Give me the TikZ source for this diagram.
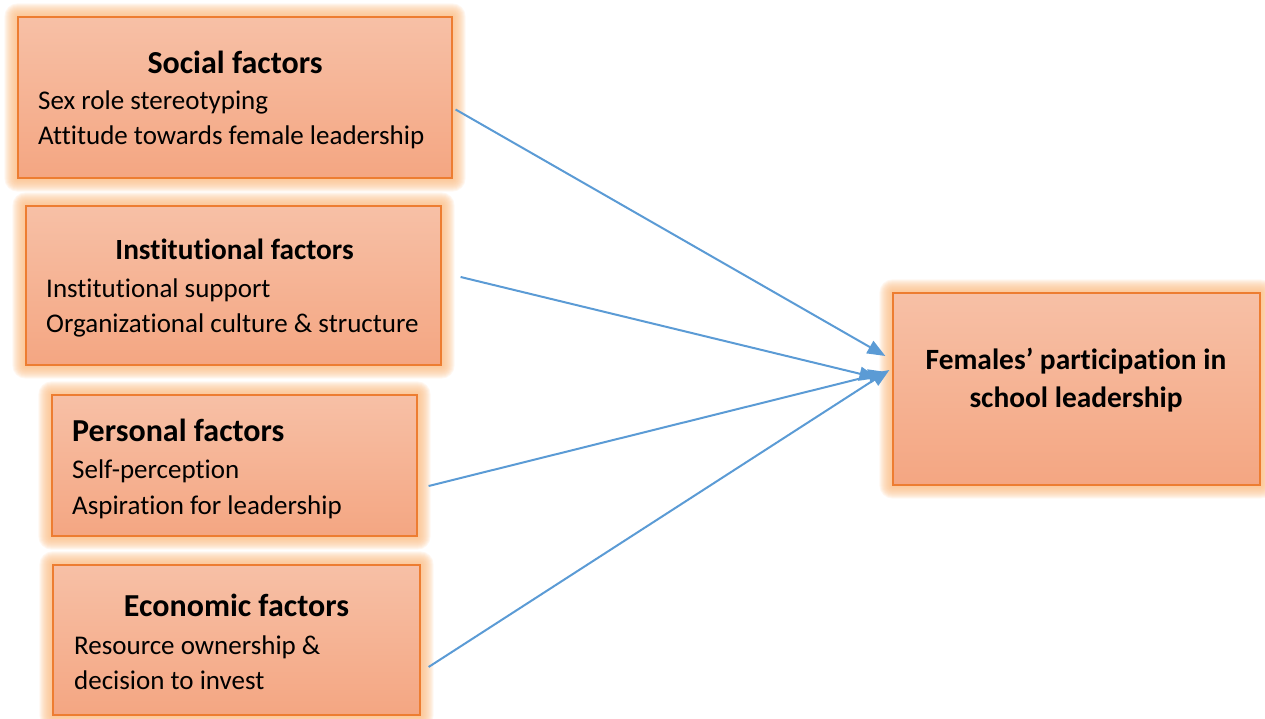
\documentclass[tikz,border=0pt]{standalone}
\usepackage{fontspec}
\setmainfont{Carlito}[Ligatures={NoCommon}]
\usetikzlibrary{arrows.meta,calc,backgrounds}

\definecolor{boxtop}{RGB}{247,192,166}
\definecolor{boxbot}{RGB}{244,166,130}
\definecolor{boxline}{RGB}{237,125,49}
\definecolor{glowc}{RGB}{251,190,135}
\definecolor{arrowc}{RGB}{91,155,213}

\tikzset{
  factorbox/.style={draw=boxline, line width=1.2pt, top color=boxtop, bottom color=boxbot,
                    inner sep=0pt, rectangle},
  headtxt/.style={font=\fontsize{32}{38}\selectfont\bfseries, inner sep=0pt},
  bodytxt/.style={font=\fontsize{27}{32}\selectfont, inner sep=0pt, anchor=base west},
  goaltxt/.style={font=\fontsize{29.4}{35}\selectfont\bfseries, inner sep=0pt, anchor=base},
  link/.style={draw=arrowc, line width=2pt, -{Triangle[length=18pt,width=14pt]}},
}

% soft orange halo behind a box
\newcommand{\halo}[1]{%
  \begin{scope}[on background layer]
    \foreach \i in {1,...,13}{
      \fill[glowc, opacity=0.12, rounded corners=\i pt]
        ($(#1.south west)+(-\i pt,-\i pt)$) rectangle ($(#1.north east)+(\i pt,\i pt)$);
    }
  \end{scope}}

\begin{document}
\begin{tikzpicture}[x=1pt,y=-1pt]
  \useasboundingbox (0,0) rectangle (1265,719);

  % factor boxes
  \node[factorbox, minimum width=434pt, minimum height=161pt] (social) at (235,97.5) {};
  \node[factorbox, minimum width=415pt, minimum height=159pt] (inst) at (233.5,285.5) {};
  \node[factorbox, minimum width=365pt, minimum height=141pt] (pers) at (234.5,465.5) {};
  \node[factorbox, minimum width=367pt, minimum height=150pt] (econ) at (236.5,640) {};
  \node[factorbox, minimum width=367pt, minimum height=192pt] (goal) at (1076.5,389) {};
  \halo{social}\halo{inst}\halo{pers}\halo{econ}\halo{goal}

  % social factors
  \node[headtxt, anchor=base] (socialT) at (235,74) {Social factors};
  \node[bodytxt] (socialA) at (38,110) {Sex role stereotyping};
  \node[bodytxt] (socialB) at (38,145) {Attitude towards female leadership};

  % institutional factors
  \node[headtxt, anchor=base, font=\fontsize{29.3}{35}\selectfont\bfseries] (instT) at (234.5,259) {Institutional factors};
  \node[bodytxt] (instA) at (46,297) {Institutional support};
  \node[bodytxt] (instB) at (46,332) {Organizational culture \& structure};

  % personal factors
  \node[headtxt, anchor=base west] (persT) at (72,441) {Personal factors};
  \node[bodytxt] (persA) at (72,478) {Self-perception};
  \node[bodytxt] (persB) at (72,514) {Aspiration for leadership};

  % economic factors
  \node[headtxt, anchor=base] (econT) at (236.5,616) {Economic factors};
  \node[bodytxt] (econA) at (74,654) {Resource ownership \&};
  \node[bodytxt] (econB) at (74,689) {decision to invest};

  % outcome
  \node[goaltxt] (goalA) at (1076,369) {Females’ participation in};
  \node[goaltxt] (goalB) at (1076,407) {school leadership};

  % connector ends
  \coordinate (s1) at ($(social.east)+(3pt,-12pt)$);
  \coordinate (s2) at ($(inst.east)+(19pt,8.5pt)$);
  \coordinate (s3) at ($(pers.east)+(11pt,-20.5pt)$);
  \coordinate (s4) at ($(econ.east)+(8pt,-27pt)$);
  \coordinate (t1) at ($(goal.west)+(-7pt,33pt)$);
  \coordinate (t2) at ($(goal.west)+(-15pt,11pt)$);
  \coordinate (t3) at ($(goal.west)+(-6pt,17pt)$);
  \coordinate (t4) at ($(goal.west)+(-3pt,19pt)$);

  \draw[link] (s1) -- (t1);
  \draw[link] (s2) -- (t2);
  \draw[link] (s3) -- (t3);
  \draw[link] (s4) -- (t4);
\end{tikzpicture}
\end{document}
